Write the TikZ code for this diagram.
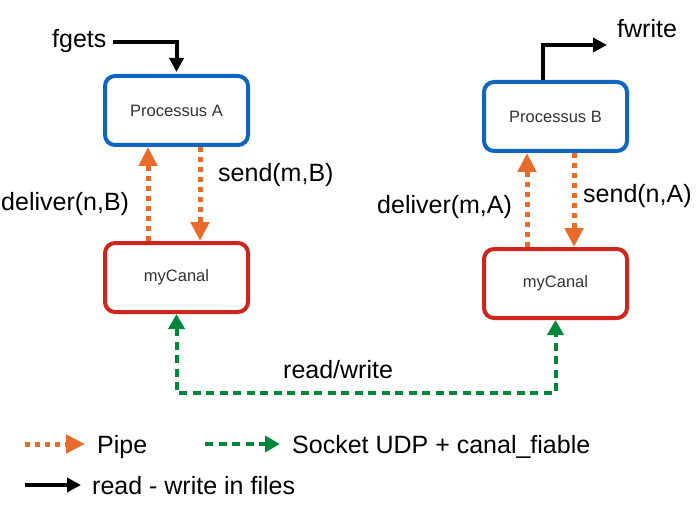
\documentclass[tikz,border=0pt]{standalone}
\usepackage{fontspec}
\setmainfont{Liberation Sans}
\usetikzlibrary{calc}
\usetikzlibrary{positioning,arrows.meta}

\definecolor{procblue}{RGB}{16,102,190}
\definecolor{canalred}{RGB}{206,38,28}
\definecolor{pipeorange}{RGB}{233,107,43}
\definecolor{udpgreen}{RGB}{0,135,58}

\tikzset{
    pipehead/.tip={Triangle[length=19pt,width=18pt]},
    udphead/.tip={Triangle[length=15pt,width=16pt]},
    filehead/.tip={Triangle[length=14pt,width=14pt]}
}

\begin{document}
\begin{tikzpicture}[
    x=1pt, y=-1pt,
    box/.style={
        draw,
        rounded corners=10pt,
        line width=4pt,
        minimum width=143pt,
        minimum height=69pt,
        fill=white,
        font=\fontsize{16.5}{19}\selectfont,
        text=black!80
    },
    process/.style={box, draw=procblue},
    canal/.style={box, draw=canalred},
    label/.style={inner sep=0pt, anchor=base west, font=\fontsize{25}{29}\selectfont},
    pipe/.style={-pipehead, pipeorange, line width=5pt, dash pattern=on 5pt off 5pt},
    udp/.style={-udphead, udpgreen, line width=4pt, dash pattern=on 8pt off 5.5pt},
    file/.style={-filehead, black, line width=4pt}
]
\useasboundingbox (0,0) rectangle (698,505);

% Processes and their channels
\node[process] (procA) at (176.5,110.5) {Processus A};
\node[canal, below=94pt of procA] (canalA) {myCanal};
\node[process] (procB) at (555.5,116.5) {Processus B};
\node[canal, below=94pt of procB] (canalB) {myCanal};

% Pipes between process and channel
\draw[pipe] ($(canalA.north)+(-28.5,0)$) -- ($(procA.south)+(-28.5,0)$);
\draw[pipe] ($(procA.south)+(23.5,0)$) -- ($(canalA.north)+(23.5,0)$);
\draw[pipe] ($(canalB.north)+(-28.5,0)$) -- ($(procB.south)+(-28.5,0)$);
\draw[pipe] ($(procB.south)+(18.5,0)$) -- ($(canalB.north)+(18.5,0)$);

\node[label] (deliverA) at (1,210) {deliver(n,B)};
\node[label] (sendA) at (218,182) {send(m,B)};
\node[label] (deliverB) at (377,213) {deliver(m,A)};
\node[label] (sendB) at (583,202) {send(n,A)};

% Socket between the two channels
\coordinate (bus) at (0,393);
\draw[udp, udphead-udphead] (canalA.south) -- (canalA.south |- bus)
    -- (canalB.south |- bus) -- (canalB.south);
\node[label] (rw) at (283,378) {read/write};

% Files
\node[label] (fgets) at (52,48) {fgets};
\draw[file] ($(fgets.east)+(6,0)$) -| ($(procA.north)+(0,-2)$);
\node[label] (fwrite) at (617,38) {fwrite};
\coordinate (outB) at ($(fwrite.base west)+(-10,7)$);
\draw[file] ($(procB.north)+(-12.5,0)$) |- (outB);

% Legend
\coordinate (pipeS) at (25,444);
\coordinate (pipeE) at (85,444);
\draw[pipe] (pipeS) -- (pipeE);
\node[label] (pipeTxt) at (97,453) {Pipe};

\coordinate (udpS) at (205,444);
\coordinate (udpE) at (280,444);
\draw[udp] (udpS) -- (udpE);
\node[label] (udpTxt) at (292,453) {Socket UDP + canal\_fiable};

\coordinate (fileS) at (25,485);
\coordinate (fileE) at (81,485);
\draw[file] (fileS) -- (fileE);
\node[label] (fileTxt) at (92,494) {read - write in files};

\end{tikzpicture}
\end{document}
